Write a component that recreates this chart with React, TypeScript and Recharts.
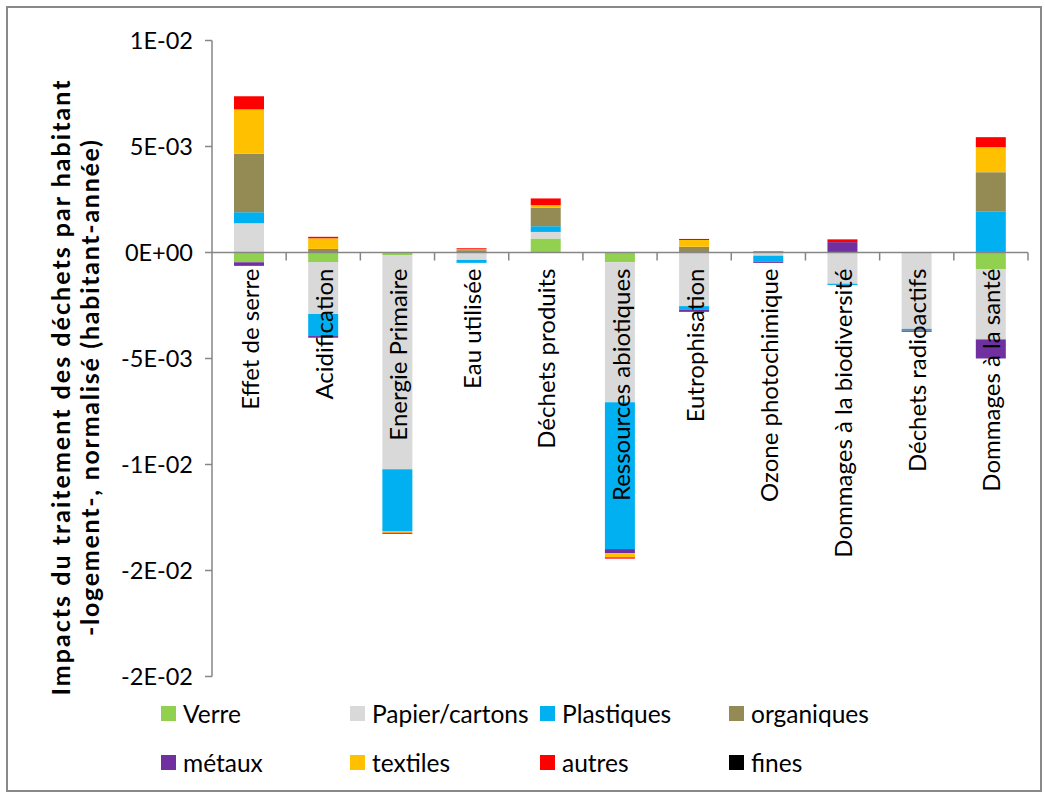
import React from "react";
import {
  BarChart,
  Bar,
  XAxis,
  YAxis,
  ReferenceLine,
  Legend,
} from "recharts";

// catégories d'impact
const categories = [
  "Effet de serre",
  "Acidification",
  "Energie Primaire",
  "Eau utilisée",
  "Déchets produits",
  "Ressources abiotiques",
  "Eutrophisation",
  "Ozone photochimique",
  "Dommages à la biodiversité",
  "Déchets radioactifs",
  "Dommages à la santé",
];

// valeurs par fraction de déchets (habitant-année)
const verre = [-0.00046, -0.00045, -0.00012, 0, 0.00066, -0.00046, 0, 0, 0, 0, -0.0008];
const papier = [0.00138, -0.00245, -0.0101, -0.00035, 0.00031, -0.0066, -0.00253, -0.00015, -0.00147, -0.0036, -0.0033];
const plastiques = [0.00052, -0.00104, -0.00292, -0.00014, 0.00027, -0.00693, -0.00016, -0.00028, -0.00006, -0.00009, 0.00195];
const organiques = [0.00276, 0.00017, 0, 0.00011, 0.00088, 0, 0.00027, 0.00004, 0, 0, 0.00184];
const metaux = [-0.00017, -0.00008, 0, 0, 0, -0.00019, -0.00011, -0.00006, 0.00049, 0, -0.0009];
const textiles = [0.00209, 0.0005, -0.00008, 0.00004, 0.00011, -0.0002, 0.00032, 0, 0, 0, 0.00118];
const autres = [0.00062, 0.00007, -0.00005, 0.00005, 0.00032, -0.00006, 0.00005, 0.00002, 0.00013, -0.00005, 0.00047];
const fines = [0, 0, 0, 0, 0, 0, 0, 0, 0, 0, 0];

const yTicks = [0.01, 0.005, 0, -0.005, -0.01, -0.015, -0.02];
const yTickLabels = ["1E-02", "5E-03", "0E+00", "-5E-03", "-1E-02", "-2E-02", "-2E-02"];

const series = [
  { key: "verre", name: "Verre", color: "#92D050", values: verre },
  { key: "papier", name: "Papier/cartons", color: "#D9D9D9", values: papier },
  { key: "plastiques", name: "Plastiques", color: "#00B0F0", values: plastiques },
  { key: "organiques", name: "organiques", color: "#948A54", values: organiques },
  { key: "metaux", name: "métaux", color: "#7030A0", values: metaux },
  { key: "textiles", name: "textiles", color: "#FFC000", values: textiles },
  { key: "autres", name: "autres", color: "#FF0000", values: autres },
  { key: "fines", name: "fines", color: "#000000", values: fines },
];

const data = categories.map((cat, i) => {
  const row: Record<string, string | number> = { cat };
  series.forEach((s) => (row[s.key] = s.values[i]));
  return row;
});

const FONT = "Lato, 'Open Sans', sans-serif";
const AXIS = "#868686";

const W = 1045;
const H = 794;
const TOP = 40.5;
const PLOT_LEFT = 212;
const PLOT_RIGHT = 1028;
const PLOT_BOTTOM = 676.5;
const Y_MIN = -0.02;
const Y_MAX = 0.01;
const ZERO_Y = TOP + (PLOT_BOTTOM - TOP) * (Y_MAX / (Y_MAX - Y_MIN));
const BAND = (PLOT_RIGHT - PLOT_LEFT) / categories.length;

function CategoryTick(props: any) {
  const { x, payload } = props;
  return (
    <g>
      <line x1={x + BAND / 2} x2={x + BAND / 2} y1={ZERO_Y} y2={ZERO_Y + 8} stroke={AXIS} strokeWidth={1.5} />
      <text
        transform={`translate(${x},${ZERO_Y + 16}) rotate(-90)`}
        textAnchor="end"
        dominantBaseline="central"
        fontSize={24}
        fontFamily={FONT}
        fill="#000"
      >
        {payload.value}
      </text>
    </g>
  );
}

function AxisTitle() {
  return (
    <g fontFamily={FONT} fontWeight="bold" fontSize={25} fill="#000" textAnchor="middle">
      <text
        transform="translate(60,388) rotate(-90)"
        dominantBaseline="central"
        textLength={615}
        lengthAdjust="spacing"
      >
        Impacts du traitement des déchets par habitant
      </text>
      <text
        transform="translate(89,388) rotate(-90)"
        dominantBaseline="central"
        textLength={496}
        lengthAdjust="spacing"
      >
        -logement-, normalisé (habitant-année)
      </text>
    </g>
  );
}

const legendCols = [161, 350, 540, 729];
const legendRows = [713, 762];

function LegendBox() {
  return (
    <div style={{ position: "relative", width: W, height: 0 }}>
      {series.map((s, i) => (
        <div
          key={s.key}
          style={{
            position: "absolute",
            left: legendCols[i % 4],
            top: legendRows[Math.floor(i / 4)] - 15,
            height: 30,
            display: "flex",
            alignItems: "center",
            fontFamily: FONT,
            fontSize: 24.5,
            color: "#000",
            whiteSpace: "nowrap",
          }}
        >
          <span style={{ width: 15, height: 15, background: s.color, marginRight: 7 }} />
          {s.name}
        </div>
      ))}
    </div>
  );
}

export default function App() {
  return (
    <div style={{ position: "absolute", left: 0, top: 0, width: W, height: H, background: "#fff" }}>
      <div
        style={{
          position: "absolute",
          left: 6,
          top: 6,
          width: 1036,
          height: 786,
          boxSizing: "border-box",
          border: "2px solid #898989",
        }}
      />
      <BarChart
        width={W}
        height={H}
        data={data}
        stackOffset="sign"
        barSize={30}
        margin={{ top: TOP, right: W - PLOT_RIGHT, bottom: H - PLOT_BOTTOM - 1, left: 0 }}
      >
        <XAxis
          dataKey="cat"
          height={1}
          axisLine={false}
          tickLine={false}
          tick={<CategoryTick />}
          interval={0}
        />
        <YAxis
          width={PLOT_LEFT}
          domain={[Y_MIN, Y_MAX]}
          ticks={yTicks}
          interval={0}
          tickFormatter={(v: number) => yTickLabels[yTicks.indexOf(v)]}
          tick={{ fontSize: 23.5, fontFamily: FONT, fill: "#000" }}
          tickSize={7}
          tickMargin={12}
          stroke={AXIS}
          axisLine={{ stroke: AXIS, strokeWidth: 1.5 }}
          tickLine={{ stroke: AXIS, strokeWidth: 1.5 }}
          label={<AxisTitle />}
        />
        <ReferenceLine y={0} stroke={AXIS} strokeWidth={1.5} />
        {series.map((s) => (
          <Bar
            key={s.key}
            dataKey={s.key}
            name={s.name}
            stackId="a"
            fill={s.color}
            isAnimationActive={false}
          />
        ))}
        <Legend
          content={<LegendBox />}
          wrapperStyle={{ left: 0, top: 0, bottom: "auto", width: W }}
        />
      </BarChart>
    </div>
  );
}
